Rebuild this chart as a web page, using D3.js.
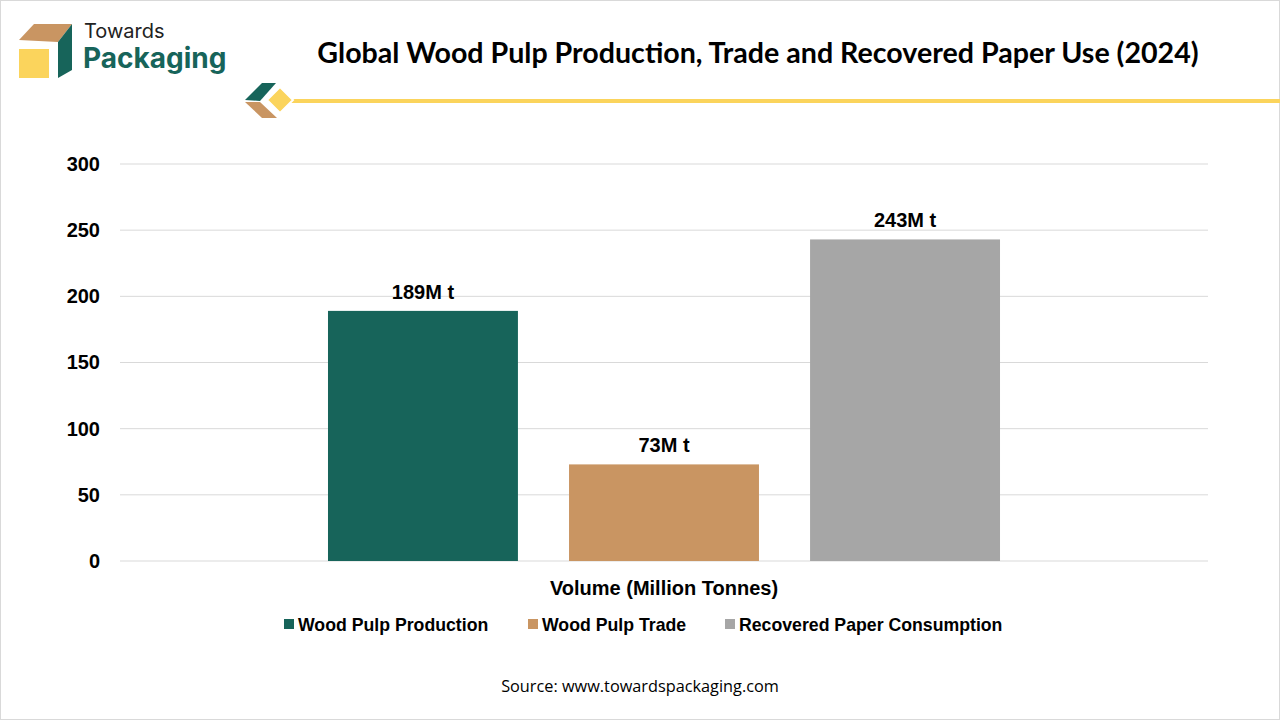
<!DOCTYPE html>
<html>
<head>
<meta charset="utf-8">
<script src="https://cdn.jsdelivr.net/npm/d3@7"></script>
<style>
  html, body { margin: 0; padding: 0; background: #fff; }
  svg { display: block; }
</style>
</head>
<body>
<svg id="chart" width="1280" height="720"></svg>
<script>
// chart data
const category = "Volume (Million Tonnes)";
const seriesNames = ["Wood Pulp Production", "Wood Pulp Trade", "Recovered Paper Consumption"];
const seriesValues = [189, 73, 243];
const valueLabels = ["189M t", "73M t", "243M t"];
const seriesColors = ["#17645a", "#c99562", "#a6a6a6"];
const yTicks = [0, 50, 100, 150, 200, 250, 300];

const svg = d3.select("#chart");

// frame
svg.append("rect").attr("x", 0.5).attr("y", 0.5).attr("width", 1279).attr("height", 719)
   .attr("fill", "#fff").attr("stroke", "#d9d9d9");

// logo
const logo = svg.append("g");
logo.append("polygon").attr("points", "19,40 34,24 72,24 58,42").attr("fill", "#c99562");
logo.append("polygon").attr("points", "72,24 72,70 58,78 58,42").attr("fill", "#17645a");
logo.append("rect").attr("x", 19).attr("y", 49).attr("width", 30).attr("height", 29).attr("fill", "#fbd45c");
logo.append("text").attr("x", 84).attr("y", 38).text("Towards")
    .attr("font-family", "Inter, 'Noto Sans', sans-serif").attr("font-size", 20).attr("fill", "#222");
logo.append("text").attr("x", 83).attr("y", 68).text("Packaging")
    .attr("font-family", "Inter, 'Noto Sans', sans-serif").attr("font-weight", 700)
    .attr("font-size", 28).attr("fill", "#17645a");

// title
svg.append("text").attr("x", 758).attr("y", 63).attr("text-anchor", "middle")
   .attr("font-family", "Lato, 'Open Sans', sans-serif").attr("font-weight", 700)
   .attr("font-size", 28.6).attr("fill", "#000")
   .text("Global Wood Pulp Production, Trade and Recovered Paper Use (2024)");

// decorative line
svg.append("line").attr("x1", 285).attr("x2", 1280).attr("y1", 101).attr("y2", 101)
   .attr("stroke", "#fbd45c").attr("stroke-width", 4);
svg.append("polygon").attr("points", "245,100 262,83 276,83 260,101").attr("fill", "#17645a");
svg.append("polygon").attr("points", "245,102 260,102 277,118 262,118").attr("fill", "#c99562");
svg.append("polygon").attr("points", "280,87 293,100 280,113 267,100")
   .attr("fill", "#fbd45c").attr("stroke", "#fff").attr("stroke-width", 2);

// plot
const margin = { top: 164, left: 120, right: 72, bottom: 159 };
const width = 1280 - margin.left - margin.right;
const height = 720 - margin.top - margin.bottom;
const g = svg.append("g").attr("transform", `translate(${margin.left},${margin.top})`);

const y = d3.scaleLinear().domain([0, 300]).range([height, 0]);
const x0 = d3.scaleBand().domain([category]).range([0, width]).paddingInner(0).paddingOuter(0.3095);
const x1 = d3.scaleBand().domain(seriesNames).range([0, x0.bandwidth()]).paddingInner(0.212);

// gridlines
g.append("g").selectAll("line").data(yTicks).enter().append("line")
  .attr("x1", 0).attr("x2", width)
  .attr("y1", d => y(d)).attr("y2", d => y(d))
  .attr("stroke", "#d9d9d9").attr("stroke-width", 1);

// y axis labels
const yAxis = g.append("g").call(d3.axisLeft(y).tickValues(yTicks).tickSize(0).tickPadding(20));
yAxis.select(".domain").remove();
yAxis.selectAll("text").attr("font-family", "Arial, 'Liberation Sans', sans-serif")
     .attr("font-weight", 700).attr("font-size", 20).attr("fill", "#000");

// bars
const grp = g.append("g").attr("transform", `translate(${x0(category)},0)`);
const data = seriesNames.map((s, i) => ({ name: s, value: seriesValues[i], label: valueLabels[i], color: seriesColors[i] }));
grp.selectAll("rect").data(data).enter().append("rect")
   .attr("x", d => x1(d.name)).attr("y", d => y(d.value))
   .attr("width", x1.bandwidth()).attr("height", d => height - y(d.value))
   .attr("fill", d => d.color);
grp.selectAll("text.lbl").data(data).enter().append("text").attr("class", "lbl")
   .attr("x", d => x1(d.name) + x1.bandwidth() / 2).attr("y", d => y(d.value) - 12)
   .attr("text-anchor", "middle")
   .attr("font-family", "Arial, 'Liberation Sans', sans-serif").attr("font-weight", 700)
   .attr("font-size", 20).attr("fill", "#000").text(d => d.label);

// x axis category label
g.append("text").attr("x", x0(category) + x0.bandwidth() / 2).attr("y", height + 34)
 .attr("text-anchor", "middle")
 .attr("font-family", "Arial, 'Liberation Sans', sans-serif").attr("font-weight", 700)
 .attr("font-size", 20).attr("fill", "#000").text(category);

// legend
const legendX = [284, 528, 725];
const legend = svg.append("g").selectAll("g").data(data).enter().append("g")
  .attr("transform", (d, i) => `translate(${legendX[i]},625)`);
legend.append("rect").attr("x", 0).attr("y", -6).attr("width", 10).attr("height", 10)
  .attr("fill", d => d.color);
legend.append("text").attr("x", 14).attr("y", 6)
  .attr("font-family", "Arial, 'Liberation Sans', sans-serif").attr("font-weight", 700)
  .attr("font-size", 17.7).attr("fill", "#000").text(d => d.name);

// source
svg.append("text").attr("x", 640).attr("y", 692).attr("text-anchor", "middle")
   .attr("font-family", "'Open Sans', sans-serif").attr("font-size", 16.3).attr("fill", "#000")
   .text("Source: www.towardspackaging.com");
</script>
</body>
</html>
